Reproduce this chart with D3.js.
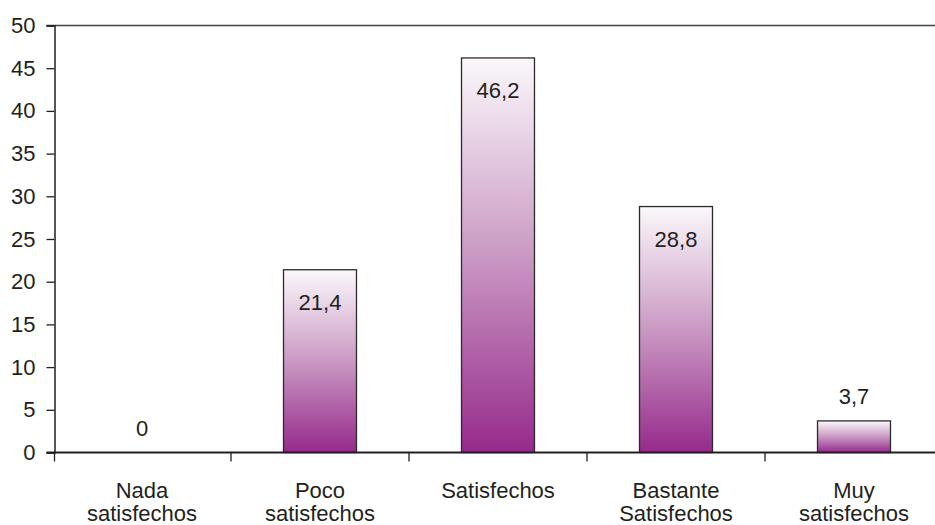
<!DOCTYPE html>
<html>
<head>
<meta charset="utf-8">
<script src="https://cdn.jsdelivr.net/npm/d3@7"></script>
<style>
  html, body { margin: 0; padding: 0; background: #fff; }
  svg { display: block; font-family: "Liberation Sans", Arial, sans-serif; }
</style>
</head>
<body>
<svg id="chart" width="935" height="525"></svg>
<script>
// Satisfaction levels (each label split over two lines)
const categories = ["Nada satisfechos", "Poco satisfechos", "Satisfechos", "Bastante Satisfechos", "Muy satisfechos"];
const categoryLines = [["Nada", "satisfechos"], ["Poco", "satisfechos"], ["Satisfechos"], ["Bastante", "Satisfechos"], ["Muy", "satisfechos"]];
const values = [0, 21.4, 46.2, 28.8, 3.7];
const valueLabels = ["0", "21,4", "46,2", "28,8", "3,7"];
const yTicks = [0, 5, 10, 15, 20, 25, 30, 35, 40, 45, 50];

const svg = d3.select("#chart");
const W = 935;
const axisX = 54.5, baseY = 452.5, topY = 25.5;
const ink = "#231f20";
const fontSize = "22px";

const x = d3.scaleBand().domain(categories).range([53, 943]).paddingInner(0).paddingOuter(0);
const y = d3.scaleLinear().domain([0, 50]).range([baseY, topY]);
const barW = x.bandwidth() * 0.41;

// vertical gradient: pale at the top of each bar, purple at the base
const defs = svg.append("defs");
const grad = defs.append("linearGradient").attr("id", "barGrad")
  .attr("x1", 0).attr("y1", 0).attr("x2", 0).attr("y2", 1);
grad.append("stop").attr("offset", "0%").attr("stop-color", "#fbf8fb");
grad.append("stop").attr("offset", "45%").attr("stop-color", "#cfa3c9");
grad.append("stop").attr("offset", "100%").attr("stop-color", "#962a8b");

// bars
svg.append("g").selectAll("rect")
  .data(values.map((v, i) => ({ v, c: categories[i] })).filter(d => d.v > 0))
  .join("rect")
  .attr("x", d => x(d.c) + x.bandwidth() / 2 - barW / 2)
  .attr("y", d => y(d.v))
  .attr("width", barW)
  .attr("height", d => y(0) - y(d.v))
  .attr("fill", "url(#barGrad)")
  .attr("stroke", "#2b2b2b")
  .attr("stroke-width", 1.3);

// top border line of the plot area
svg.append("line")
  .attr("x1", axisX - 8).attr("x2", W)
  .attr("y1", y(50)).attr("y2", y(50))
  .attr("stroke", "#444").attr("stroke-width", 1.5);

// y axis
const yAxis = d3.axisLeft(y).tickValues(yTicks).tickSize(8).tickPadding(11).tickFormat(d3.format("d"));
const gy = svg.append("g").attr("transform", `translate(${axisX},0)`).call(yAxis);
gy.select(".domain").attr("stroke", ink).attr("stroke-width", 1.5);
gy.selectAll(".tick line").attr("stroke", ink).attr("stroke-width", 1.3);
gy.selectAll(".tick text").attr("fill", ink).style("font-size", fontSize)
  .style("font-family", "'Liberation Sans', Arial, sans-serif");

// x axis line with ticks between categories
svg.append("line")
  .attr("x1", axisX - 8).attr("x2", W)
  .attr("y1", baseY).attr("y2", baseY)
  .attr("stroke", ink).attr("stroke-width", 2);
const boundaries = categories.map(c => x(c)).concat([x(categories[categories.length - 1]) + x.bandwidth()]);
svg.append("g").selectAll("line")
  .data(boundaries.map((b, i) => i === 0 ? axisX : b))
  .join("line")
  .attr("x1", d => d).attr("x2", d => d)
  .attr("y1", baseY).attr("y2", baseY + 9)
  .attr("stroke", ink).attr("stroke-width", 1.3);

// category labels
const lbl = svg.append("g").selectAll("text")
  .data(categories)
  .join("text")
  .attr("x", c => x(c) + x.bandwidth() / 2)
  .attr("text-anchor", "middle")
  .attr("fill", ink)
  .style("font-size", fontSize);
lbl.each(function(c, i) {
  const lines = categoryLines[i];
  const sel = d3.select(this);
  lines.forEach((t, j) => {
    sel.append("tspan")
      .attr("x", x(c) + x.bandwidth() / 2)
      .attr("y", 498 + j * 23)
      .text(t);
  });
});

// value labels: inside the top of tall bars, above short ones
svg.append("g").selectAll("text")
  .data(values)
  .join("text")
  .attr("x", (v, i) => x(categories[i]) + x.bandwidth() / 2)
  .attr("y", v => (y(0) - y(v) > 50) ? y(v) + 40 : y(v) - 17)
  .attr("text-anchor", "middle")
  .attr("fill", ink)
  .style("font-size", fontSize)
  .text((v, i) => valueLabels[i]);
</script>
</body>
</html>
